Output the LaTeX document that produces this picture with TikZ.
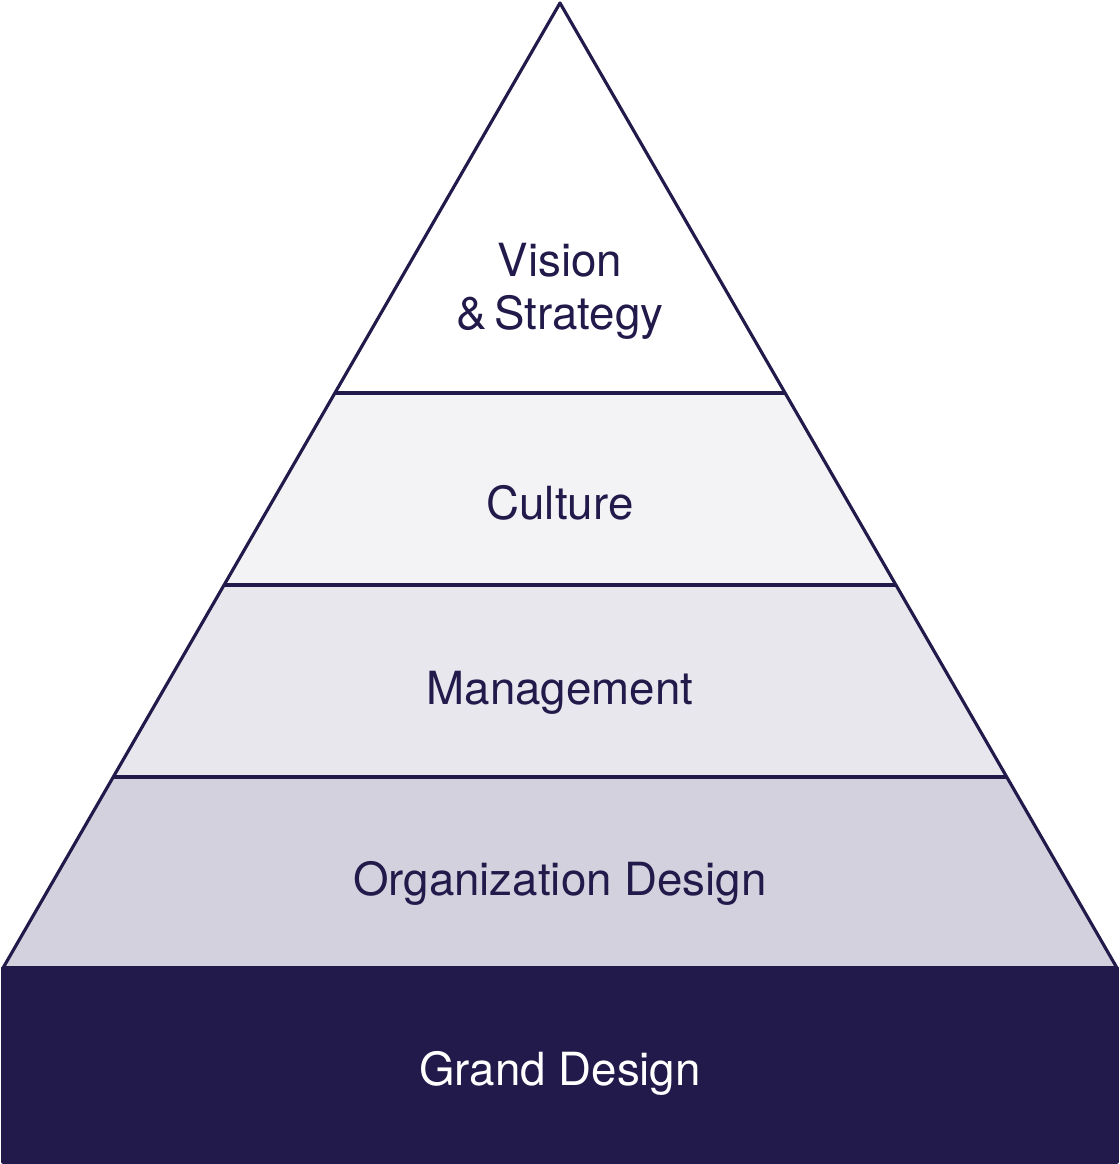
\documentclass[tikz,border=0pt]{standalone}
\usepackage{fontspec}
\setmainfont{TeX Gyre Heros}
\definecolor{navy}{HTML}{211A4A}
\definecolor{bandA}{HTML}{F3F3F5}
\definecolor{bandB}{HTML}{E8E7EE}
\definecolor{bandC}{HTML}{D3D1DD}
\tikzset{
  edge/.style={draw=navy, line width=1.8pt, line join=round},
  tier/.style={text=navy, font=\fontsize{26}{31}\selectfont, align=center}
}
\begin{document}
\begin{tikzpicture}[x=0.02cm, y=-0.02cm]
    \useasboundingbox (0,0) rectangle (1120,1164);
    % Bands
    \fill[bandA] (334.9,393) -- (785.1,393) -- (896,585) -- (224,585) -- cycle;
    \fill[bandB] (224,585) -- (896,585) -- (1006.8,777) -- (113.2,777) -- cycle;
    \fill[bandC] (113.2,777) -- (1006.8,777) -- (1117,968) -- (3,968) -- cycle;
    % Outline and dividers
    \draw[edge] (560,3) -- (1117,968) -- (3,968) -- cycle;
    \draw[edge] (334.9,393) -- (785.1,393);
    \draw[edge] (224,585) -- (896,585);
    \draw[edge] (113.2,777) -- (1006.8,777);
    % Base
    \filldraw[edge, fill=navy] (3,968) rectangle (1117,1162);
    % Labels
    \node[tier] (vision) at (560,291) {Vision\\[-1pt]\&\,Strategy};
    \node[tier] (culture) at (560,503) {Culture};
    \node[tier] (management) at (560,693) {Management};
    \node[tier] (orgdesign) at (560,883) {Organization Design};
    \node[tier, text=white] (grand) at (560,1073) {Grand Design};
\end{tikzpicture}
\end{document}
